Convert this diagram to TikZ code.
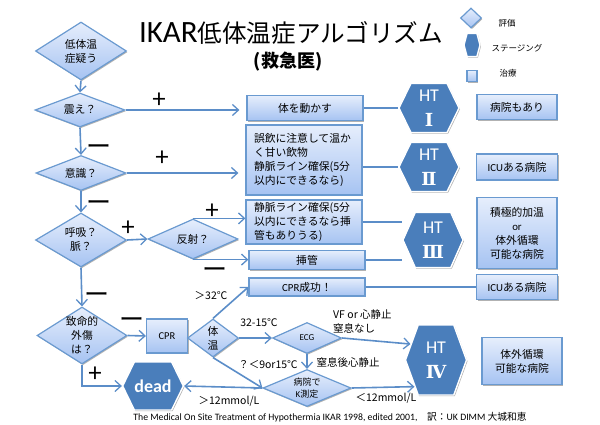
\documentclass[tikz,border=0pt]{standalone}
\usepackage{fontspec}
\setmainfont{Noto Sans CJK JP}
\newfontfamily\lat{Carlito}
\newfontfamily\numeral{DejaVu Serif}
\usetikzlibrary{arrows.meta,shapes.geometric,shapes.symbols,shadows}
\definecolor{edgeblue}{HTML}{6A9AD0}
\definecolor{lineblue}{HTML}{5B8DC8}
\definecolor{hexblue}{HTML}{4A7EBB}
\definecolor{toplight}{HTML}{E6EEFC}
\definecolor{botlight}{HTML}{A6C3F2}
\newcommand{\fsize}[2]{\fontsize{#1}{#2}\selectfont}
\tikzset{
  softshadow/.style={drop shadow={shadow xshift=1pt,shadow yshift=-1.2pt,opacity=.3,fill=black}},
  judge/.style={diamond,draw=edgeblue,line width=1.2pt,top color=toplight,bottom color=botlight,
    inner sep=-8pt,align=center,font=\fsize{10.8}{14},softshadow},
  careBox/.style={rectangle,draw=edgeblue,line width=1.2pt,top color=toplight,bottom color=botlight,
    inner sep=0pt,align=center,font=\fsize{10.8}{14},softshadow},
  careText/.style={careBox,align=left,text width=100pt},
  stage/.style={signal,signal to=east and west,draw=white,line width=1.4pt,fill=hexblue,text=white,
    inner sep=0pt,align=center,font=\lat\fsize{18}{25},softshadow},
  go/.style={draw=lineblue,line width=1.6pt,-{Straight Barb[length=6pt,width=11pt,line width=1.3pt]}},
  link/.style={draw=lineblue,line width=1.6pt},
  note/.style={inner sep=0pt,align=left,font=\fsize{10.5}{14}},
  sign/.style={inner sep=0pt,font=\fsize{25}{25}}
}
\begin{document}
\begin{tikzpicture}[x=1pt,y=-1pt]
  \def\HT#1#2#3#4#5#6{
    \node[stage,minimum width=#4,minimum height=#5,signal pointer angle=#6] (#1) at (#2) {#3};
  }
  \useasboundingbox (0,0) rectangle (600,425);

  %%% title
  \node[inner sep=0pt,font=\fsize{24.6}{28}] (title) at (287.5,33) {{\lat\fsize{31}{28} IKAR}低体温症アルゴリズム};
  \node[inner sep=0pt,font=\bfseries\fsize{18}{20}] (subtitle) at (288,62) {(救急医)};

  %%% legend
  \node[judge,minimum width=21,minimum height=20] (keyjudge) at (471,18) {};
  \HT{keystage}{472,45}{}{16}{23}{150}
  \node[careBox,minimum width=10,minimum height=11] (keycare) at (472,76) {};
  \node[note,font=\fsize{8.5}{10}] (keyjudgetext) at (507,23) {評価};
  \node[note,font=\fsize{8.5}{10}] (keystagetext) at (517,48) {ステージング};
  \node[note,font=\fsize{8.5}{10}] (keycaretext) at (508,73) {治療};

  %%% left column
  \node[judge,minimum width=91,minimum height=58] (suspect) at (81,51) {低体温\\症疑う};
  \node[judge,minimum width=90,minimum height=34] (shiver) at (80,110) {震え？};
  \node[judge,minimum width=90,minimum height=35] (conscious) at (81,173) {意識？};
  \node[judge,minimum width=91,minimum height=54] (breath) at (81,240) {呼吸？\\脈？};
  \node[judge,minimum width=90,minimum height=40] (reflex) at (193,239) {反射？};
  \node[judge,minimum width=90,minimum height=57] (trauma) at (82,335.5) {致命的\\外傷\\は？};

  %%% care boxes
  \node[careBox,minimum width=116,minimum height=25] (move) at (305,108) {体を動かす};
  \node[careText,minimum width=116,minimum height=70] (warm) at (304,160)
    {誤飲に注意して温か\\く甘い飲物\\静脈ライン確保(5分\\以内にできるなら)};
  \node[careText,minimum width=116,minimum height=44] (iv) at (304,222)
    {静脈ライン確保(5分\\以内にできるなら挿\\管もありうる)};
  \node[careBox,minimum width=116,minimum height=19] (tube) at (307,260) {挿管};
  \node[careBox,minimum width=116,minimum height=18] (success) at (307,287) {{\lat CPR}成功！};

  %%% stages
  \HT{htone}{429,108}{HT\\{\numeral\bfseries\fsize{18}{25}Ⅰ}}{60}{49}{128}
  \HT{httwo}{429,167}{HT\\{\numeral\bfseries\fsize{18}{25}Ⅱ}}{60}{49}{128}
  \HT{htthree}{433,240}{HT\\{\numeral\bfseries\fsize{18}{25}Ⅲ}}{60}{55}{132}
  \HT{htfour}{436,360}{HT\\{\numeral\bfseries\fsize{18}{25}Ⅳ}}{61}{70}{140}
  \HT{dead}{153,386}{\bfseries dead}{59}{48}{128}

  %%% hospitals
  \node[careBox,minimum width=80,minimum height=25] (anyhosp) at (517,107) {病院もあり};
  \node[careBox,minimum width=81,minimum height=26] (icuone) at (517,167) {{\lat ICU}ある病院};
  \node[careBox,minimum width=80,minimum height=71] (rewarm) at (517,233)
    {積極的加温\\{\lat or}\\体外循環\\可能な病院};
  \node[careBox,minimum width=81,minimum height=25] (icutwo) at (517,287) {{\lat ICU}ある病院};
  \node[careBox,minimum width=80,minimum height=47] (ecmo) at (522,361) {体外循環\\可能な病院};

  %%% lower part
  \node[careBox,minimum width=41,minimum height=34,font=\lat\fsize{10.5}{14}] (cpr) at (167,336) {CPR};
  \node[judge,minimum width=51,minimum height=38] (temp) at (213,338) {体\\温};
  \node[judge,minimum width=69,minimum height=31,font=\lat\fsize{9}{12}] (ecg) at (307,338) {ECG};
  \node[judge,minimum width=88,minimum height=37,font=\fsize{9}{12}] (potassium) at (307,388) {病院で\\{\lat K}測定};

  %%% connectors
  \draw[go] (suspect.south) -- (shiver.north);
  \draw[go] (shiver.south) -- (conscious.north);
  \draw[go] (conscious.south) -- (breath.north);
  \draw[go] (breath.south) -- (trauma.north);
  \draw[go,shorten >=7pt] (shiver.east) -- (shiver.east -| move.west);
  \draw[go,shorten >=7pt] (conscious.east) -- (conscious.east -| warm.west);
  \draw[go] (breath.east) -- (reflex.west);
  \draw[go] (reflex.north) -- (reflex.north -| iv.west);
  \draw[go] (reflex.south) -- (reflex.south -| tube.west);
  \draw[go] (trauma.east) -- (cpr.west);
  \draw[go] (trauma.south) |- (dead.west);
  \draw[go] (temp.north) -- (success.west);
  \draw[go] (temp.east) -- (ecg.west);
  \draw[go] (temp.south) -- (potassium.west);
  \draw[go] (ecg.south) -- (potassium.north);
  \draw[go] (ecg.east) -- (htfour.148);
  \draw[go] (potassium.east) -- (htfour.231);
  \draw[go] (potassium.west) -- (dead.east);
  \draw[link] (move.east) -- (htone.west);
  \draw[link] (warm.east |- httwo.west) -- (httwo.west);
  \draw[link] (iv.east) -- (iv.east -| htthree.west);
  \draw[link] (tube.east) -- (tube.east -| htthree.west);
  \draw[link] (success.east) -- (icutwo.west);

  %%% signs
  \node[sign] (plusa) at (159,101) {+};
  \node[sign] (plusb) at (162,159) {+};
  \node[sign] (plusc) at (212,212) {+};
  \node[sign] (plusd) at (128,229) {+};
  \node[sign] (pluse) at (95,375) {+};
  \node[sign] (minusa) at (99,150) {ー};
  \node[sign] (minusb) at (99,206) {ー};
  \node[sign] (minusc) at (215,273) {ー};
  \node[sign] (minusd) at (97,298) {ー};
  \node[sign] (minuse) at (132,323) {ー};

  %%% labels
  \node[note] (hotlabel) at (211,296) {＞32℃};
  \node[note] (midlabel) at (259,323) {32-15℃};
  \node[note] (coldlabel) at (268,365) {？＜9or15℃};
  \node[note] (highk) at (229,401) {＞12mmol/L};
  \node[note] (lowk) at (386,398) {＜12mmol/L};
  \node[note,anchor=west] (vflabel) at (333,321) {VF or 心静止\\窒息なし};
  \node[note] (asystole) at (348,362) {窒息後心静止};
  \node[inner sep=0pt,font=\fsize{9.75}{10}] (source) at (330,417)
    {{\lat The Medical On Site Treatment of Hypothermia IKAR 1998, edited 2001,}　訳：{\lat UK DIMM} 大城和恵};
\end{tikzpicture}
\end{document}
